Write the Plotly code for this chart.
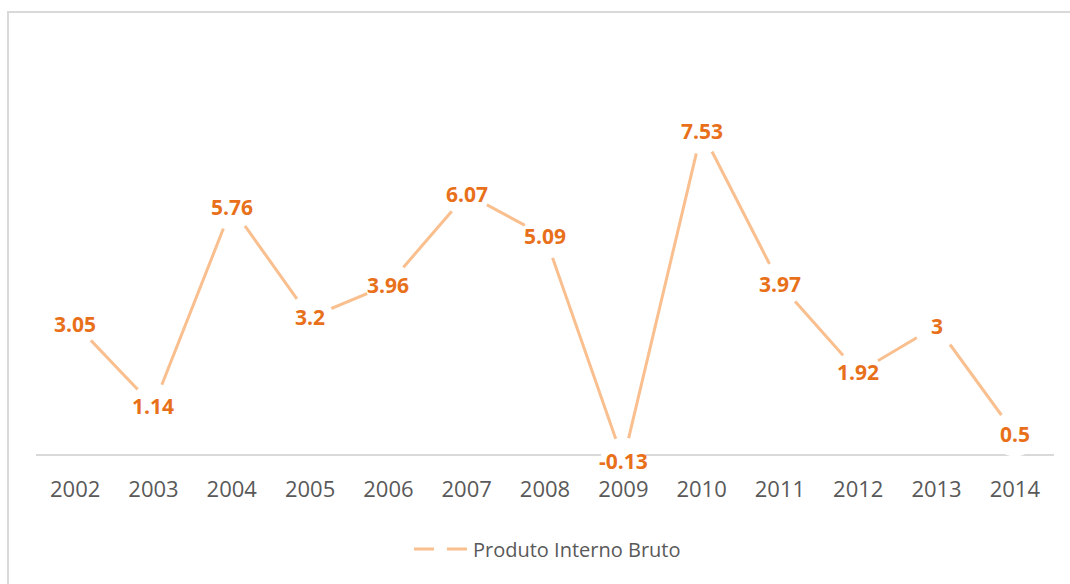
import plotly.graph_objects as go

# GDP growth (%) by year
years = ["2002", "2003", "2004", "2005", "2006", "2007", "2008",
         "2009", "2010", "2011", "2012", "2013", "2014"]
pib = [3.05, 1.14, 5.76, 3.2, 3.96, 6.07, 5.09, -0.13, 7.53, 3.97, 1.92, 3, 0.5]
series_name = "Produto Interno Bruto"

LINE_COLOR = "#F9BF8F"
LABEL_COLOR = "#E8701A"
AXIS_GRAY = "#D9D9D9"
TEXT_GRAY = "#595959"

W, H = 1070, 584
M_L, M_R, M_T, M_B = 36, 16, 90, 114
plot_w = W - M_L - M_R
plot_h = H - M_T - M_B


def px_to_paper_x(px):
    return (px - M_L) / plot_w


def px_to_paper_y(py):
    return (H - M_B - py) / plot_h


fig = go.Figure()

# line with white blank markers that open a gap around each value label
fig.add_trace(go.Scatter(
    x=years,
    y=pib,
    mode="lines+markers",
    line=dict(color=LINE_COLOR, width=3),
    marker=dict(size=46, color="white", line=dict(width=0)),
    cliponaxis=False,
    showlegend=False,
    hoverinfo="x+y",
    name=series_name,
))

# value labels centred on each point (x given as category index, since the
# year strings would otherwise be read as numbers)
annotations = [
    dict(x=i, y=v, xref="x", yref="y", text=f"{v:g}", showarrow=False,
         xanchor="center", yanchor="middle",
         font=dict(family="Open Sans", size=21, color=LABEL_COLOR, weight="bold"))
    for i, v in enumerate(pib)
]

annotations.append(
    dict(text=series_name, xref="paper", yref="paper",
         x=px_to_paper_x(471), y=px_to_paper_y(549),
         xanchor="left", yanchor="middle", showarrow=False,
         font=dict(family="Open Sans", size=20, color=TEXT_GRAY))
)

shapes = [
    # outer chart frame
    dict(type="rect", xref="paper", yref="paper",
         x0=px_to_paper_x(8), x1=px_to_paper_x(1085),
         y0=px_to_paper_y(600), y1=px_to_paper_y(12),
         line=dict(color=AXIS_GRAY, width=2), fillcolor="rgba(0,0,0,0)",
         layer="below"),
    # legend key: line with a blank marker in the middle
    dict(type="line", xref="paper", yref="paper",
         x0=px_to_paper_x(414), x1=px_to_paper_x(434),
         y0=px_to_paper_y(549), y1=px_to_paper_y(549),
         line=dict(color=LINE_COLOR, width=3)),
    dict(type="line", xref="paper", yref="paper",
         x0=px_to_paper_x(447), x1=px_to_paper_x(467),
         y0=px_to_paper_y(549), y1=px_to_paper_y(549),
         line=dict(color=LINE_COLOR, width=3)),
]

fig.update_layout(
    width=W, height=H,
    margin=dict(l=M_L, r=M_R, t=M_T, b=M_B),
    paper_bgcolor="white",
    plot_bgcolor="white",
    shapes=shapes,
    annotations=annotations,
    showlegend=False,
)

fig.update_xaxes(
    type="category",
    range=[-0.5, len(years) - 0.5],
    showgrid=False,
    showline=False,
    zeroline=False,
    ticks="",
    ticklabelstandoff=4,
    tickfont=dict(family="Open Sans", size=22, color=TEXT_GRAY),
)

fig.update_yaxes(
    range=[-15 / 43, 365 / 43],
    showgrid=False,
    showticklabels=False,
    zeroline=True,
    zerolinecolor=AXIS_GRAY,
    zerolinewidth=2,
    showline=False,
)

fig.write_html("out.html")
